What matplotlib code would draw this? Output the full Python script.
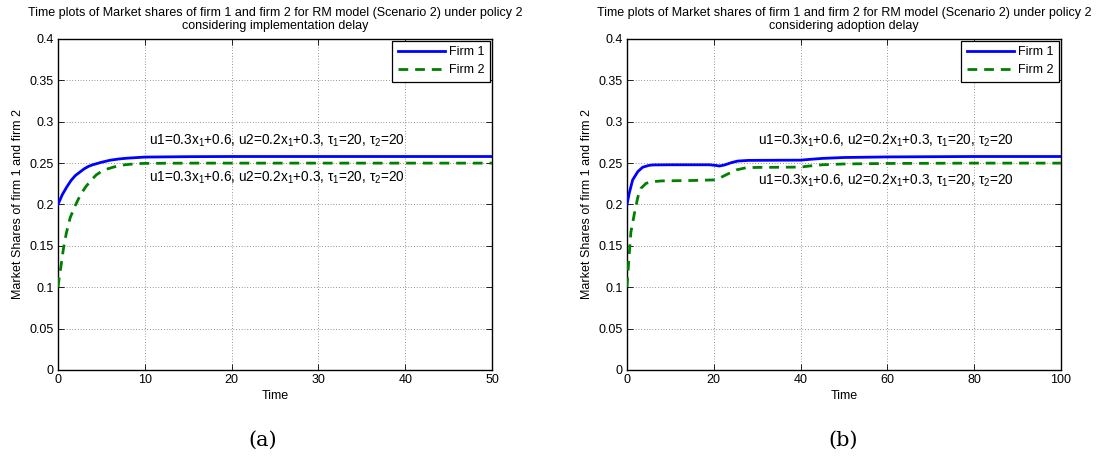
import matplotlib
matplotlib.use("Agg")
import matplotlib.pyplot as plt
from matplotlib.ticker import FixedLocator, FuncFormatter

plt.rcParams['font.family'] = ['Liberation Sans', 'DejaVu Sans']
plt.rcParams['mathtext.fontset'] = 'custom'
plt.rcParams['mathtext.rm'] = 'Liberation Sans'
plt.rcParams['mathtext.it'] = 'Liberation Sans'

# ---- data (a): implementation delay ----
t_a = [0, 0.5, 1, 1.5, 2, 2.5, 3, 3.5, 4, 5, 6, 7, 8, 10, 15, 20, 30, 40, 50]
firm1_a = [0.200, 0.212, 0.221, 0.229, 0.235, 0.239, 0.243, 0.246, 0.248, 0.251,
           0.2535, 0.255, 0.256, 0.2573, 0.2578, 0.258, 0.258, 0.258, 0.258]
t2_a = [0, 0.15, 0.35, 0.6, 0.95, 1.4, 2.0, 2.6, 3.2, 3.8, 4.4, 5.0, 5.7, 6.5,
        7.7, 9.0, 10, 15, 20, 30, 40, 50]
firm2_a = [0.100, 0.112, 0.126, 0.145, 0.165, 0.184, 0.199, 0.212, 0.2215, 0.229,
           0.2357, 0.240, 0.243, 0.2455, 0.248, 0.2493, 0.2497, 0.250, 0.250,
           0.250, 0.250, 0.250]

# ---- data (b): adoption delay ----
t_b = [0, 0.5, 1.3, 2.5, 3.6, 5, 6, 10, 15, 19, 20.5, 21.3, 22.5, 24, 25.5, 28,
       35, 40, 42, 45, 50, 60, 80, 100]
firm1_b = [0.200, 0.2134, 0.2297, 0.2398, 0.245, 0.2472, 0.2478, 0.248, 0.248,
           0.248, 0.2472, 0.2465, 0.2478, 0.2505, 0.2525, 0.2533, 0.2535, 0.2536,
           0.2545, 0.2557, 0.2568, 0.2575, 0.258, 0.258]
t2_b = [0, 0.2, 0.4, 0.9, 1.7, 2.5, 3.2, 4.4, 5.9, 8, 15, 20, 21, 22.8, 25.2,
        27.5, 30, 35, 40, 42, 45, 50, 60, 80, 100]
firm2_b = [0.100, 0.115, 0.132, 0.1667, 0.189, 0.209, 0.2195, 0.2256, 0.2276,
           0.2285, 0.229, 0.2297, 0.231, 0.2358, 0.2418, 0.2445, 0.2448, 0.245,
           0.2452, 0.2465, 0.248, 0.249, 0.2496, 0.250, 0.250]

y_ticks = [0, 0.05, 0.1, 0.15, 0.2, 0.25, 0.3, 0.35, 0.4]
x_ticks_a = [0, 10, 20, 30, 40, 50]
x_ticks_b = [0, 20, 40, 60, 80, 100]

title_line1 = "Time plots of Market shares of firm 1 and firm 2 for RM model (Scenario 2) under policy 2"
title_a = title_line1 + "\nconsidering implementation delay"
title_b = title_line1 + "\nconsidering adoption delay"
annot = r"u1=0.3x$_1$+0.6, u2=0.2x$_1$+0.3, $\tau_1$=20, $\tau_2$=20"

fig = plt.figure(figsize=(11.15, 4.68), dpi=100)
ax_a = fig.add_axes([58/1115, 1-370/468, 434/1115, 331/468])
ax_b = fig.add_axes([627/1115, 1-370/468, 434/1115, 331/468])

FS = 9
blue = (0, 0, 1)
green = (0, 0.5, 0)

def style(ax, xt, title, xmax):
    ax.set_xlim(0, xmax)
    ax.set_ylim(0, 0.4)
    ax.xaxis.set_major_locator(FixedLocator(xt))
    ax.yaxis.set_major_locator(FixedLocator(y_ticks))
    ax.yaxis.set_major_formatter(FuncFormatter(lambda v, p: "0" if v == 0 else ("%g" % v)))
    ax.tick_params(direction='in', top=True, right=True, labelsize=FS, length=4, width=0.6, pad=3)
    ax.grid(True, linestyle=(0, (1, 3)), color='black', linewidth=0.5, alpha=0.8)
    for s in ax.spines.values():
        s.set_linewidth(1.0)
    ax.set_title(title, fontsize=FS, pad=7, linespacing=1.15)
    ax.set_xlabel("Time", fontsize=FS, labelpad=3)
    ax.set_ylabel("Market Shares of firm 1 and firm 2", fontsize=FS, labelpad=4)

for ax, t1, f1, t2, f2, xt, title, xmax in [
        (ax_a, t_a, firm1_a, t2_a, firm2_a, x_ticks_a, title_a, 50),
        (ax_b, t_b, firm1_b, t2_b, firm2_b, x_ticks_b, title_b, 100)]:
    ax.plot(t1, f1, color=blue, linewidth=2.0, label="Firm 1", zorder=3)
    ax.plot(t2, f2, color=green, linewidth=2.0, linestyle=(0, (3.5, 2.5)), label="Firm 2", zorder=3)
    style(ax, xt, title, xmax)
    leg = ax.legend(loc='upper right', fontsize=FS, fancybox=False, framealpha=1,
                    edgecolor='black', borderaxespad=0.15, handlelength=3.8,
                    handletextpad=0.3, borderpad=0.45, labelspacing=0.45)
    leg.get_frame().set_linewidth(0.9)

AFS = 9.8
ax_a.text(10.5, 0.2765, annot, fontsize=AFS, va='center', ha='left')
ax_a.text(10.5, 0.2317, annot, fontsize=AFS, va='center', ha='left')
ax_b.text(30.2, 0.2764, annot, fontsize=AFS, va='center', ha='left')
ax_b.text(30.2, 0.2285, annot, fontsize=AFS, va='center', ha='left')

fig.text(263/1115, 1-440/468, "(a)", fontsize=15, family='DejaVu Serif', ha='center', va='center')
fig.text(843/1115, 1-440/468, "(b)", fontsize=15, family='DejaVu Serif', ha='center', va='center')

fig.savefig("out.png", dpi=100)
